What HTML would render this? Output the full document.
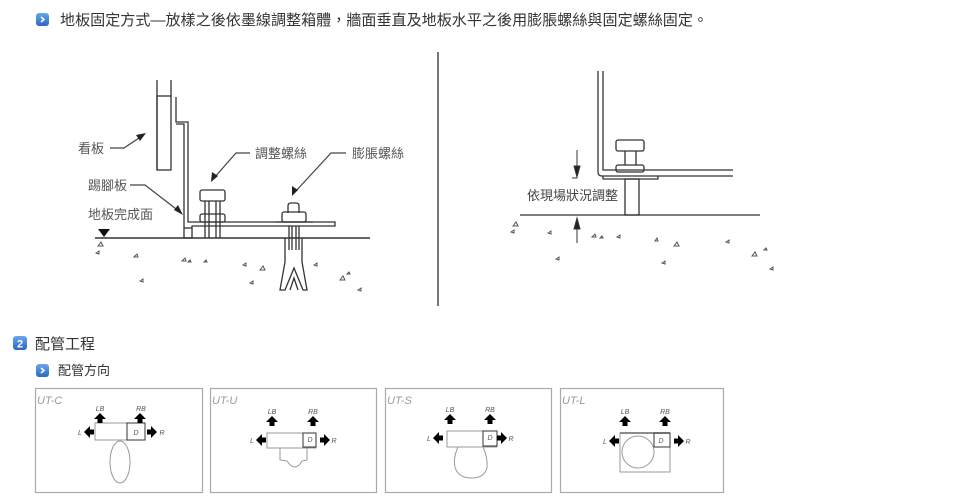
<!DOCTYPE html>
<html><head><meta charset="utf-8"><style>
html,body{margin:0;padding:0;background:#fff;}
svg{display:block;font-family:"Liberation Sans","Noto Sans CJK TC",sans-serif;}
</style></head><body>
<svg width="973" height="500" viewBox="0 0 973 500" xmlns="http://www.w3.org/2000/svg">
<defs>
<linearGradient id="g" x1="0" y1="0" x2="0" y2="1"><stop offset="0" stop-color="#6aa6ea"/><stop offset="1" stop-color="#2a68c4"/></linearGradient>
</defs>
<rect x="36" y="13" width="13" height="13" rx="3" fill="url(#g)"/>
<path d="M41 17 l3 2.5 -3 2.5" fill="none" stroke="#fff" stroke-width="1.5"/>
<text x="60" y="25" font-size="15" fill="#333" textLength="648" lengthAdjust="spacingAndGlyphs">地板固定方式—放樣之後依墨線調整箱體，牆面垂直及地板水平之後用膨脹螺絲與固定螺絲固定。</text>

<g fill="none" stroke="#333" stroke-width="1.3">
<line x1="157" y1="80" x2="157" y2="170"/>
<line x1="171" y1="80" x2="171" y2="97"/>
<rect x="157" y="96" width="14" height="74"/>
<path d="M176 97 V122 H188 V222 H335 V226 H192 V238 H184 V124 H176"/>
<line x1="184" y1="228" x2="192" y2="228"/>
<rect x="200" y="190" width="25" height="11" rx="2"/>
<rect x="200" y="214" width="25" height="8" rx="2"/>
<line x1="205" y1="201" x2="205" y2="238"/><line x1="209" y1="201" x2="209" y2="238"/>
<line x1="216" y1="201" x2="216" y2="238"/><line x1="220" y1="201" x2="220" y2="238"/>
<path d="M288 213 V206 Q288 203 291 203 H296 Q299 203 299 206 V213"/>
<rect x="282" y="212" width="24" height="10" rx="2"/>
<line x1="276" y1="222" x2="313" y2="222"/>
<line x1="289" y1="226" x2="289" y2="250"/><line x1="292" y1="226" x2="292" y2="250"/>
<line x1="296" y1="226" x2="296" y2="250"/><line x1="299" y1="226" x2="299" y2="250"/>
<path d="M285 238 V262 L280 290 H285 L294 268 L303 290 H307 L302 262 V238"/>
<path d="M290 290 L294 278 L298 290"/>
</g>
<line x1="95" y1="238" x2="370" y2="238" stroke="#333" stroke-width="1.5"/>
<polygon points="98,229 110,229 104,237" fill="#111"/>
<g fill="#555" font-size="13">
<text x="78" y="153">看板</text>
<text x="88" y="190">踢腳板</text>
<text x="88" y="219">地板完成面</text>
<text x="255" y="158">調整螺絲</text>
<text x="352" y="158">膨脹螺絲</text>
</g>
<g stroke="#444" stroke-width="1.2" fill="none">
<path d="M110 148 H124 L142 136"/>
<path d="M130 185 H145 L180 212"/>
<path d="M250 153 H236 L214 178"/>
<path d="M346 153 H331 L295 192"/>
</g>
<g fill="#222">
<polygon points="146,133 136,135 140,141"/>
<polygon points="183,215 174,210 178,205"/>
<polygon points="211,182 212,172 218,176"/>
<polygon points="292,196 292,186 298,190"/>
</g>
<g fill="none" stroke="#555" stroke-width="1">
<path d="M98 246 l3 -4 2 4z M96 253 l3 -2 0 3z M134 257 l3 -3 1 3z M182 261 l3 -3 1 3z M188 262 l2 -2 1 2z M204 262 l2 -2 1 2z M243 265 l3 -2 0 3z M260 270 l3 -4 2 4z M140 281 l3 -2 0 3z M314 265 l3 -2 0 3z M340 280 l3 -4 2 4z M347 274 l2 -2 1 2z M250 283 l3 -2 0 3z M358 290 l3 -2 0 3z"/>
</g>

<line x1="438" y1="52" x2="438" y2="306" stroke="#777" stroke-width="2"/>

<g fill="none" stroke="#333" stroke-width="1.3">
<path d="M598 71 V172 Q598 176 602 176 H733"/>
<path d="M603 71 V170 H733"/>
<path d="M603 176 V179 H658 V176"/>
<rect x="616" y="140" width="28" height="11" rx="2"/>
<rect x="616" y="165" width="28" height="7" rx="2"/>
<line x1="625" y1="151" x2="625" y2="165"/><line x1="636" y1="151" x2="636" y2="165"/>
<rect x="625" y="179" width="14" height="36"/>
</g>
<line x1="520" y1="215" x2="760" y2="215" stroke="#333" stroke-width="1.3"/>
<g stroke="#333" stroke-width="1" fill="#222">
<line x1="577" y1="150" x2="577" y2="178"/><polygon points="574,166 580,166 577,177"/>
<line x1="572" y1="178" x2="577" y2="178"/>
<line x1="577" y1="218" x2="577" y2="243"/><polygon points="574,229 580,229 577,218"/>
</g>
<text x="527" y="200" font-size="13" fill="#444">依現場狀況調整</text>
<g fill="none" stroke="#555" stroke-width="1">
<path d="M513 226 l3 -4 2 4z M511 232 l3 -2 0 3z M548 233 l3 -2 0 3z M592 237 l3 -3 1 3z M600 238 l2 -2 1 2z M617 237 l3 -2 0 3z M655 241 l2 -3 1 3z M674 246 l3 -4 2 4z M726 242 l3 -2 0 3z M556 259 l3 -2 0 3z M662 263 l3 -2 0 3z M752 256 l3 -4 2 4z M764 250 l2 -2 1 2z M770 269 l3 -2 0 3z"/>
</g>

<rect x="13" y="336" width="14" height="14" rx="3" fill="url(#g)"/>
<text x="20" y="347.5" font-size="11" font-weight="bold" fill="#fff" text-anchor="middle">2</text>
<text x="35" y="349" font-size="15" fill="#333">配管工程</text>
<rect x="36" y="364" width="13" height="13" rx="3" fill="url(#g)"/>
<path d="M41 368 l3 2.5 -3 2.5" fill="none" stroke="#fff" stroke-width="1.5"/>
<text x="58" y="375" font-size="13" fill="#333">配管方向</text>

<g fill="none" stroke="#aaa" stroke-width="1.2">
<rect x="35.5" y="388.5" width="167" height="104"/>
<rect x="210.5" y="388.5" width="166" height="104"/>
<rect x="385.5" y="388.5" width="166" height="104"/>
<rect x="560.5" y="388.5" width="163" height="104"/>
</g>
<g font-size="11" fill="#999" font-style="italic">
<text x="37" y="404">UT-C</text><text x="212" y="404">UT-U</text><text x="387" y="404">UT-S</text><text x="562" y="404">UT-L</text>
</g>

<g transform="translate(35,388)">
<rect x="60" y="35" width="50" height="17" fill="none" stroke="#999"/>
<rect x="92" y="35" width="18" height="17" fill="none" stroke="#333"/>
<ellipse cx="85" cy="74" rx="10" ry="21" fill="none" stroke="#999"/>
</g>
<g transform="translate(210,388)">
<rect x="57" y="45" width="49" height="15" fill="none" stroke="#999"/>
<rect x="93" y="45" width="13" height="14" fill="none" stroke="#333"/>
<path d="M70 60 V72 L77 73 Q85 85 92 73 L97 72 V60" fill="none" stroke="#999"/>
</g>
<g transform="translate(385,388)">
<rect x="62" y="43" width="50" height="16" fill="none" stroke="#999"/>
<rect x="98" y="43" width="14" height="15" fill="none" stroke="#333"/>
<path d="M73 59 Q68 70 70 79 Q73 90 87 90 Q99 90 102 80 Q103 70 98 59" fill="none" stroke="#999"/>
</g>
<g transform="translate(560,388)">
<rect x="60" y="45" width="50" height="39" fill="none" stroke="#999"/>
<line x1="60" y1="45" x2="110" y2="45" stroke="#666" stroke-width="1.5"/>
<circle cx="78" cy="64" r="16" fill="none" stroke="#999"/>
<rect x="94" y="45" width="16" height="14" fill="none" stroke="#333"/>
</g>

<g fill="#000">
<path d="M100 413 l-6 6 h3.5 v4 h5 v-4 h3.5z"/>
<path d="M140 413 l-6 6 h3.5 v4 h5 v-4 h3.5z"/>
<path d="M84 432 l6 -6 v3.5 h4 v5 h-4 v3.5z"/>
<path d="M157 432 l-6 -6 v3.5 h-4 v5 h4 v3.5z"/>

<path d="M272 416 l-6 6 h3.5 v4 h5 v-4 h3.5z"/>
<path d="M313 416 l-6 6 h3.5 v4 h5 v-4 h3.5z"/>
<path d="M256 440 l6 -6 v3.5 h4 v5 h-4 v3.5z"/>
<path d="M330 440 l-6 -6 v3.5 h-4 v5 h4 v3.5z"/>

<path d="M450 414 l-6 6 h3.5 v4 h5 v-4 h3.5z"/>
<path d="M490 414 l-6 6 h3.5 v4 h5 v-4 h3.5z"/>
<path d="M433 438 l6 -6 v3.5 h4 v5 h-4 v3.5z"/>
<path d="M507 438 l-6 -6 v3.5 h-4 v5 h4 v3.5z"/>

<path d="M625 416 l-6 6 h3.5 v4 h5 v-4 h3.5z"/>
<path d="M665 416 l-6 6 h3.5 v4 h5 v-4 h3.5z"/>
<path d="M609 441 l6 -6 v3.5 h4 v5 h-4 v3.5z"/>
<path d="M684 441 l-6 -6 v3.5 h-4 v5 h4 v3.5z"/>
</g>
<g font-size="7" fill="#555" font-style="italic" text-anchor="middle">
<text x="100" y="411">LB</text><text x="141" y="411">RB</text><text x="80" y="435">L</text><text x="162" y="435">R</text><text x="136" y="435">D</text>
<text x="272" y="414">LB</text><text x="313" y="414">RB</text><text x="252" y="443">L</text><text x="334" y="443">R</text><text x="310" y="442">D</text>
<text x="450" y="412">LB</text><text x="490" y="412">RB</text><text x="429" y="441">L</text><text x="511" y="441">R</text><text x="490" y="440">D</text>
<text x="625" y="414">LB</text><text x="665" y="414">RB</text><text x="605" y="444">L</text><text x="688" y="444">R</text><text x="661" y="443">D</text>
</g>
</svg>
</body></html>
